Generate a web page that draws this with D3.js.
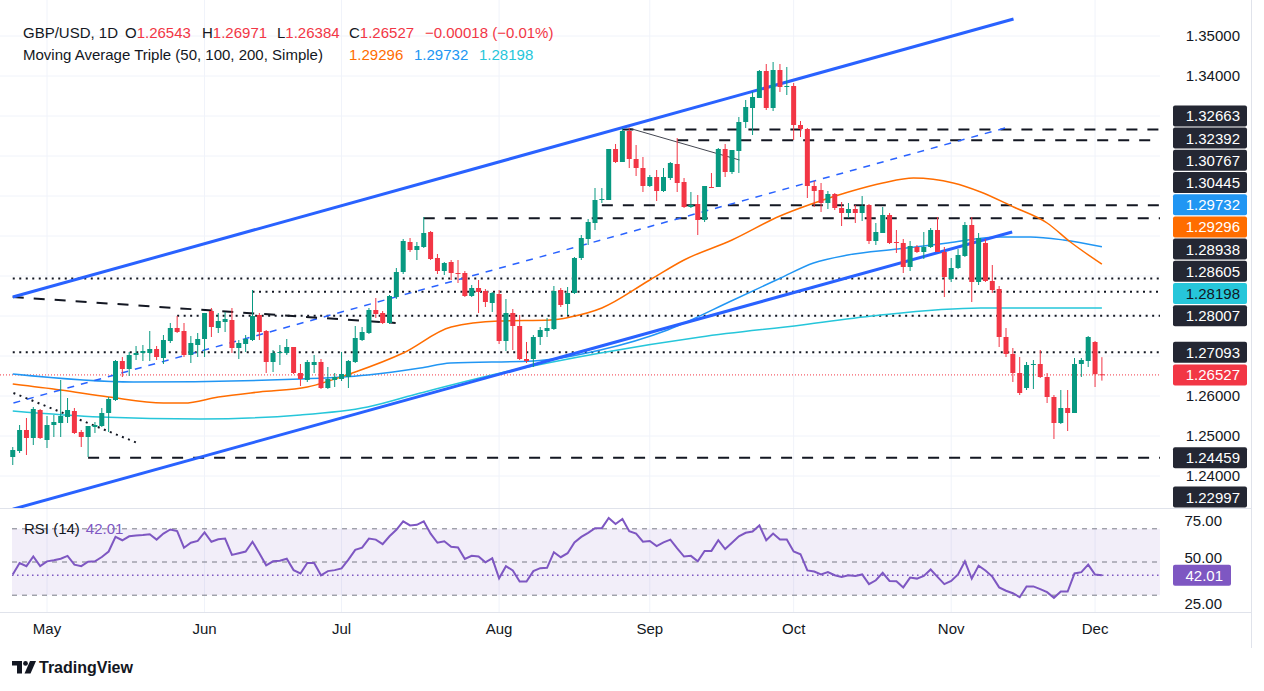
<!DOCTYPE html>
<html>
<head>
<meta charset="utf-8">
<title>GBP/USD 1D</title>
<script src="https://d3js.org/d3.v7.min.js"></script>
<style>
  body { margin: 0; background: #fff; }
  text { font-family: "Liberation Sans", Arial, sans-serif; }
</style>
</head>
<body>
<script>
// daily bars, first one is Apr 24 2024 (bar index -5), last is Dec 3 2024 (index 154)
var firstBar = -5;
var opens = [
  1.24475,1.24625,1.2515,1.2495,1.2565,1.249,1.25275,1.25325,1.25475,1.25625,
  1.251,1.24975,1.25225,1.2525,1.25575,1.259,1.26875,1.26675,1.27025,1.27075,
  1.27075,1.27175,1.2695,1.27375,1.277,1.27625,1.27025,1.27275,1.27425,1.28125,
  1.277,1.2785,1.279,1.272,1.273,1.274,1.28025,1.27625,1.2685,1.27075,
  1.27075,1.27225,1.26575,1.264,1.26775,1.2685,1.262,1.264,1.26425,1.26475,
  1.2685,1.274,1.27575,1.2815,1.28075,1.27825,1.28475,1.291,1.2985,1.2965,
  1.29725,1.301,1.2945,1.29125,1.2935,1.29075,1.29075,1.285,1.287,1.28625,
  1.28325,1.2855,1.27375,1.28075,1.2775,1.26925,1.26925,1.27475,1.27625,1.27675,
  1.2865,1.283,1.28575,1.2945,1.29925,1.30325,1.309,1.309,1.32175,1.3185,
  1.32625,1.31925,1.317,1.3125,1.31475,1.31125,1.3145,1.318,1.3135,1.30725,
  1.308,1.304,1.31225,1.31225,1.32175,1.316,1.32125,1.3285,1.332,1.3345,
  1.34125,1.332,1.3415,1.33725,1.3375,1.32775,1.32675,1.3125,1.3115,1.30825,
  1.3105,1.307,1.30575,1.30675,1.30575,1.30775,1.29875,1.30075,1.30525,1.2985,
  1.29825,1.29225,1.29725,1.296,1.29725,1.3015,1.296,1.28925,1.292,1.295,
  1.30275,1.2885,1.29825,1.28875,1.28675,1.27475,1.2705,1.26575,1.262,1.26775,
  1.268,1.26475,1.25975,1.25325,1.257,1.25575,1.268,1.26875,1.2735,1.26543
];
var highs = [
  1.24725,1.25275,1.2545,1.25725,1.25675,1.255,1.25525,1.264,1.2595,1.257,
  1.2515,1.2525,1.2535,1.257,1.25975,1.269,1.26975,1.271,1.2725,1.27275,
  1.27625,1.2725,1.27525,1.27825,1.28,1.27825,1.275,1.27575,1.28075,1.282,
  1.28075,1.281,1.282,1.274,1.27525,1.2865,1.28075,1.2765,1.2715,1.27275,
  1.27425,1.27225,1.268,1.269,1.27025,1.26925,1.26725,1.26575,1.271,1.269,
  1.2775,1.27725,1.282,1.2845,1.28125,1.28525,1.292,1.29925,1.2995,1.2985,
  1.30475,1.30125,1.2955,1.2935,1.294,1.294,1.29125,1.28775,1.289,1.28675,
  1.286,1.2865,1.28425,1.28175,1.28025,1.2735,1.27525,1.27725,1.2795,1.2875,
  1.287,1.28725,1.29475,1.30025,1.30425,1.312,1.312,1.32175,1.323,1.327,
  1.327,1.32275,1.31975,1.31525,1.3165,1.317,1.3185,1.3245,1.3145,1.311,
  1.31025,1.3125,1.31575,1.322,1.323,1.3215,1.32975,1.334,1.336,1.3415,
  1.343,1.3435,1.343,1.34225,1.33825,1.32875,1.327,1.31375,1.31325,1.31125,
  1.31075,1.3085,1.30825,1.30775,1.31,1.308,1.30325,1.30725,1.30575,1.3015,
  1.29925,1.29875,1.29775,1.301,1.302,1.30475,1.29725,1.2945,1.29675,1.3035,
  1.30475,1.30075,1.29925,1.29275,1.2875,1.277,1.272,1.26975,1.2685,1.269,
  1.2715,1.26575,1.26025,1.2615,1.2615,1.2695,1.2695,1.275,1.27375,1.26971
];
var lows = [
  1.24275,1.24575,1.24525,1.24775,1.24925,1.247,1.24975,1.24975,1.25325,1.2505,
  1.24725,1.24475,1.25075,1.25225,1.251,1.25875,1.26475,1.265,1.269,1.26875,
  1.26875,1.269,1.268,1.27325,1.27575,1.26975,1.26825,1.26975,1.26975,1.27475,
  1.27575,1.276,1.27075,1.26925,1.271,1.27375,1.274,1.26575,1.266,1.26775,
  1.27025,1.2655,1.2625,1.2635,1.26575,1.26175,1.26175,1.26225,1.26375,1.262,
  1.26825,1.27375,1.2755,1.2795,1.278,1.278,1.28425,1.2905,1.296,1.294,
  1.297,1.294,1.2905,1.29025,1.289,1.28825,1.28475,1.28475,1.28075,1.28225,
  1.281,1.273,1.27125,1.2715,1.269,1.26825,1.26725,1.27275,1.27475,1.2765,
  1.28225,1.28025,1.2855,1.294,1.29775,1.3015,1.30825,1.309,1.31825,1.3185,
  1.317,1.315,1.311,1.31225,1.30875,1.311,1.314,1.311,1.307,1.307,
  1.30025,1.3035,1.312,1.31225,1.31475,1.3155,1.31575,1.327,1.32525,1.3345,
  1.3315,1.33125,1.336,1.33525,1.324,1.32475,1.3095,1.30725,1.306,1.30675,
  1.3065,1.3025,1.3045,1.30325,1.30375,1.298,1.29775,1.30075,1.298,1.29575,
  1.29075,1.29125,1.29575,1.29425,1.297,1.296,1.28475,1.2885,1.29175,1.29475,
  1.2835,1.28775,1.2885,1.28575,1.27225,1.26975,1.2635,1.26025,1.2615,1.26175,
  1.2645,1.25825,1.24925,1.253,1.25125,1.25575,1.26475,1.26725,1.26225,1.26384
];
var closes = [
  1.2465,1.2515,1.2495,1.25675,1.2495,1.25275,1.2535,1.255,1.2565,1.25075,
  1.24975,1.2525,1.25275,1.25575,1.25925,1.26875,1.26675,1.27025,1.27075,1.27125,
  1.27175,1.26975,1.274,1.277,1.276,1.27025,1.27325,1.27425,1.28075,1.27725,
  1.27875,1.27925,1.272,1.27325,1.27425,1.28,1.276,1.2685,1.27075,1.271,
  1.27225,1.26575,1.26425,1.2685,1.2685,1.262,1.26425,1.26475,1.2655,1.26875,
  1.2745,1.276,1.2815,1.2805,1.27825,1.285,1.291,1.29875,1.2965,1.2975,
  1.30075,1.29425,1.29125,1.29325,1.29075,1.2905,1.285,1.287,1.286,1.2835,
  1.28575,1.27375,1.28075,1.2775,1.26925,1.26875,1.27475,1.2765,1.277,1.28625,
  1.28275,1.28575,1.2945,1.2995,1.3035,1.309,1.30925,1.32175,1.3185,1.32625,
  1.31925,1.317,1.3125,1.31475,1.31125,1.31475,1.31825,1.31325,1.30725,1.30775,
  1.304,1.3125,1.312,1.32175,1.316,1.3215,1.3285,1.33225,1.33475,1.34125,
  1.332,1.3415,1.33725,1.3375,1.32775,1.32675,1.3125,1.31125,1.30825,1.3105,
  1.307,1.30575,1.30675,1.30575,1.3075,1.29875,1.301,1.30525,1.29825,1.29825,
  1.29225,1.2975,1.296,1.29725,1.3015,1.296,1.28975,1.292,1.29525,1.30275,
  1.2885,1.2995,1.28875,1.2865,1.27475,1.2705,1.26575,1.26075,1.26775,1.268,
  1.26475,1.25975,1.25325,1.257,1.25575,1.268,1.269,1.27475,1.26545,1.26527
];
var rsi = [
  42.5,49.4,47.5,53.3,47.5,50.4,51,52,53.7,48.4,
  47.5,50.2,50.4,53,56.3,65.1,63.1,65.5,66,66.3,
  66.7,63.5,67.1,69.6,68.6,58.6,61.6,62.7,67.8,62.2,
  63.7,64.1,54.3,55.3,56.3,62.2,55.3,48,50.4,50.8,
  52,45.1,43.1,49.4,49.4,42,44.5,45.1,46.1,51.4,
  57.3,58.6,64.1,63.5,60.8,65.5,69.4,74.5,72,72.4,
  74.5,67.1,61.6,62.5,59.2,58.8,51.8,53.7,53.3,49.8,
  52.2,40.2,47.5,44.9,38.2,38.2,44.5,46.3,46.5,55.9,
  52.9,55.3,61.8,65.1,67.6,70.4,70.4,76.5,72.9,75.9,
  68.6,67.1,62.2,62.7,59.6,61.8,63.5,58.2,53.3,53.7,
  50.4,56.7,56.7,63.1,57.8,61.6,65.5,67.6,68.4,72,
  63.1,67.1,63.5,63.5,56.3,54.7,44.9,44.3,42.5,43.9,
  42,41,42,41.6,42.5,36.7,39,43.5,38.6,38.4,
  34.7,40.6,40,41.6,45.5,41,36.7,38.6,42.5,50.4,
  40,47.8,44.9,41.2,34.7,32.7,31.2,28.8,35.3,35.3,
  33.7,31.8,28.4,32.2,32.2,43.1,43.9,48.4,42.5,42.01
];

// moving averages (bar index, value)
var ma50Idx = [-5, 2, 9, 17, 20, 25, 31, 38, 45, 52, 59, 66, 73.5, 76.4, 81, 88, 93, 100, 107, 112, 117, 122, 126.5, 132.3, 136.3, 141.1, 146, 149.4, 154];
var ma50Val = [1.263, 1.2615, 1.25975, 1.25825, 1.25825, 1.25975, 1.261, 1.26225, 1.266, 1.27075, 1.27725, 1.27875, 1.279, 1.27975, 1.282, 1.289, 1.294, 1.299, 1.305, 1.30825, 1.311, 1.31325, 1.3145, 1.31325, 1.311, 1.30725, 1.30325, 1.2985, 1.29296];
var ma100Idx = [-5, 12.6, 37, 46.8, 54.5, 58.9, 71, 80.8, 90.6, 100.2, 107.1, 111.9, 116.9, 124.2, 131.5, 138.8, 143.6, 148.4, 154];
var ma100Val = [1.2655, 1.2635, 1.26425, 1.26525, 1.267, 1.26825, 1.26875, 1.2715, 1.2765, 1.284, 1.2895, 1.29325, 1.29525, 1.29675, 1.29825, 1.29975, 1.29975, 1.299, 1.29732];
var ma200Idx = [-5, 7.8, 22.4, 37, 46.8, 54.5, 66.2, 80.8, 95.4, 110.2, 121.7, 136.3, 154];
var ma200Val = [1.25625, 1.25475, 1.25425, 1.25525, 1.25725, 1.26075, 1.26575, 1.27075, 1.27475, 1.27775, 1.28025, 1.282, 1.28198];

// drawn objects: [bar index, price] end points
var channelUpper = [[-5, 1.28475], [141.1, 1.35425]];
var channelLower = [[-5, 1.2317], [140.9, 1.301]];
var channelMid = [[-4.9, 1.25825], [140.4, 1.32725]];
var fallingDashed = [[-5, 1.28475], [50.9, 1.27825]];
var fallingDotted = [[-4.9, 1.26075], [13.2, 1.24825]];
var pivotLink = [[84.9, 1.327], [101.1, 1.319]];

var dashedLevels = [1.32663, 1.32392, 1.30767, 1.30445, 1.24459];
var dashedFrom = [84, 92, 81, 55, 6];
var dottedLevels = [1.28938, 1.28605, 1.28007, 1.27093];
var dottedFrom = [-5, 30, 19, -5];
var lastPrice = 1.26527;

var tagValues = [1.32663, 1.32392, 1.30767, 1.30445, 1.29732, 1.29296, 1.28938, 1.28605, 1.28198, 1.28007, 1.27093, 1.26527, 1.24459, 1.22997];
var tagKinds = ['level','level','level','level','ma100','ma50','level','level','ma200','level','level','last','level','level'];
var priceTicks = [1.35, 1.34, 1.26, 1.25, 1.24];
var rsiTicks = [75, 50, 25];
var rsiLast = 42.01;

var monthLabels = ['May', 'Jun', 'Jul', 'Aug', 'Sep', 'Oct', 'Nov', 'Dec'];
var monthBars = [0, 23, 43, 66, 88, 109, 132, 153];

var up = '#089981', down = '#f23645', ink = '#131722';
var colors = { level: '#242733', ma100: '#2196f3', ma50: '#ff6d00', ma200: '#26c6da', last: '#f23645' };

var W = 1264, H = 691, plotR = 1160, paneBottom = 508, rsiBottom = 612;

var svg = d3.select('body').append('svg').attr('width', W).attr('height', H);

var x = d3.scaleLinear().domain([-5, 154]).range([12.75, 1101.9]);
var y = d3.scaleLinear().domain([1.24, 1.35]).range([476, 36]);
var yR = d3.scaleLinear().domain([25, 75]).range([603.5, 520.5]);

var bars = opens.map(function(o, k) {
  return { i: firstBar + k, o: o, h: highs[k], l: lows[k], c: closes[k], r: rsi[k] };
});

// grid
var grid = svg.append('g');
grid.selectAll('line.h').data(d3.range(1.23, 1.355, 0.01).filter(function(p){ return y(p) < paneBottom; }))
  .enter().append('line')
  .attr('x1', 0).attr('x2', plotR).attr('y1', function(d){ return y(d); }).attr('y2', function(d){ return y(d); })
  .attr('stroke', '#f0f3fa');
grid.selectAll('line.v').data(monthBars).enter().append('line')
  .attr('x1', function(d){ return x(d); }).attr('x2', function(d){ return x(d); })
  .attr('y1', 0).attr('y2', rsiBottom).attr('stroke', '#f0f3fa');

// frame lines
svg.append('line').attr('x1', 0).attr('x2', 1251).attr('y1', paneBottom + 0.5).attr('y2', paneBottom + 0.5).attr('stroke', '#e0e3eb');
svg.append('line').attr('x1', 0).attr('x2', 1251).attr('y1', rsiBottom + 0.5).attr('y2', rsiBottom + 0.5).attr('stroke', '#e0e3eb');
svg.append('line').attr('x1', 1251.5).attr('x2', 1251.5).attr('y1', 0).attr('y2', 648).attr('stroke', '#e0e3eb');

svg.append('clipPath').attr('id', 'pane').append('rect').attr('x', 0).attr('y', 0).attr('width', plotR).attr('height', paneBottom);
var pane = svg.append('g').attr('clip-path', 'url(#pane)');

// horizontal levels
pane.selectAll('line.dash').data(dashedLevels).enter().append('line')
  .attr('x1', function(d, k){ return x(dashedFrom[k]); }).attr('x2', plotR)
  .attr('y1', function(d){ return y(d); }).attr('y2', function(d){ return y(d); })
  .attr('stroke', ink).attr('stroke-width', 2).attr('stroke-dasharray', '11,10');
pane.selectAll('line.dot').data(dottedLevels).enter().append('line')
  .attr('x1', function(d, k){ return x(dottedFrom[k]); }).attr('x2', plotR)
  .attr('y1', function(d){ return y(d); }).attr('y2', function(d){ return y(d); })
  .attr('stroke', ink).attr('stroke-width', 2).attr('stroke-dasharray', '2,4.5');
pane.append('line').attr('x1', 0).attr('x2', plotR).attr('y1', y(lastPrice)).attr('y2', y(lastPrice))
  .attr('stroke', down).attr('stroke-dasharray', '1,2');

// moving averages
function maLine(idx, val, color) {
  var pts = idx.map(function(d, k){ return [x(d), y(val[k])]; });
  pane.append('path').attr('d', d3.line().curve(d3.curveMonotoneX)(pts))
    .attr('fill', 'none').attr('stroke', color).attr('stroke-width', 1.5);
}
maLine(ma200Idx, ma200Val, colors.ma200);
maLine(ma100Idx, ma100Val, colors.ma100);
maLine(ma50Idx, ma50Val, colors.ma50);

// drawings
function seg(pts, color, w, dash) {
  var l = pane.append('line')
    .attr('x1', x(pts[0][0])).attr('y1', y(pts[0][1]))
    .attr('x2', x(pts[1][0])).attr('y2', y(pts[1][1]))
    .attr('stroke', color).attr('stroke-width', w);
  if (dash) l.attr('stroke-dasharray', dash);
}
seg(channelMid, '#2962ff', 1.5, '7,7');
seg(fallingDashed, ink, 2, '11,10');
seg(fallingDotted, ink, 2, '2,4.5');
seg(pivotLink, '#434651', 1);
seg(channelUpper, '#2962ff', 3);
seg(channelLower, '#2962ff', 3);

// candles
var cg = pane.selectAll('g.bar').data(bars).enter().append('g');
cg.append('line')
  .attr('x1', function(d){ return x(d.i); }).attr('x2', function(d){ return x(d.i); })
  .attr('y1', function(d){ return y(d.h); }).attr('y2', function(d){ return y(d.l); })
  .attr('stroke', function(d){ return d.c >= d.o ? up : down; });
cg.append('rect')
  .attr('x', function(d){ return x(d.i) - 2.5; }).attr('width', 5)
  .attr('y', function(d){ return y(Math.max(d.o, d.c)); })
  .attr('height', function(d){ return Math.max(1, Math.abs(y(d.o) - y(d.c))); })
  .attr('fill', function(d){ return d.c >= d.o ? up : down; });

// RSI pane
var rp = svg.append('g');
rp.append('rect').attr('x', 12).attr('width', plotR - 12).attr('y', yR(70)).attr('height', yR(30) - yR(70))
  .attr('fill', 'rgba(126,87,194,0.1)');
rp.selectAll('line.lv').data([70, 50, 30]).enter().append('line')
  .attr('x1', 12).attr('x2', plotR).attr('y1', function(d){ return yR(d); }).attr('y2', function(d){ return yR(d); })
  .attr('stroke', '#787b86').attr('stroke-dasharray', '5,5');
rp.append('line').attr('x1', 12).attr('x2', plotR).attr('y1', yR(rsiLast)).attr('y2', yR(rsiLast))
  .attr('stroke', '#7e57c2').attr('stroke-width', 1.5).attr('stroke-dasharray', '1.5,3.5');
rp.append('path').attr('d', d3.line().x(function(d){ return x(d.i); }).y(function(d){ return yR(d.r); })(bars))
  .attr('fill', 'none').attr('stroke', '#7e57c2').attr('stroke-width', 2);
var rl = rp.append('text').attr('x', 24).attr('y', yR(70) + 5).attr('font-size', 15);
rl.append('tspan').attr('fill', ink).text('RSI (14)');
rl.append('tspan').attr('fill', '#7e57c2').attr('dx', 6).text(rsiLast.toFixed(2));

// price axis
var ax = svg.append('g').attr('font-size', 15);
ax.selectAll('text.t').data(priceTicks).enter().append('text')
  .attr('x', 1240).attr('y', function(d){ return y(d) + 5; }).attr('text-anchor', 'end')
  .attr('fill', ink).text(function(d){ return d.toFixed(5); });

// stacked value tags, pushed up from the bottom so they do not overlap
var tags = tagValues.map(function(v, k){ return { v: v, kind: tagKinds[k], ty: y(v) }; });
var order = tags.slice().sort(function(a, b){ return b.ty - a.ty; });
var prev = Infinity;
order.forEach(function(t){
  t.py = Math.min(t.ty, prev - 22.2, paneBottom - 11);
  prev = t.py;
});
var tg = ax.selectAll('g.tag').data(tags).enter().append('g');
tg.append('rect').attr('x', 1173).attr('width', 74).attr('y', function(d){ return d.py - 10.5; }).attr('height', 21)
  .attr('rx', 2).attr('fill', function(d){ return colors[d.kind]; });
tg.append('text').attr('x', 1240).attr('y', function(d){ return d.py + 5.5; }).attr('text-anchor', 'end')
  .attr('fill', function(d){ return d.kind === 'ma200' ? ink : '#fff'; })
  .text(function(d){ return d.v.toFixed(5); });

// RSI axis; the 50 label is nudged up so it clears the last-value tag
var rTagTop = yR(rsiLast) - 10.5;
ax.selectAll('text.r').data(rsiTicks).enter().append('text')
  .attr('x', 1222).attr('text-anchor', 'end')
  .attr('y', function(d){ return Math.min(yR(d) + 5, rTagTop - 1.5); })
  .attr('fill', ink).text(function(d){ return d.toFixed(2); })
  .filter(function(d){ return d === 25; }).attr('y', yR(25) + 5);
ax.append('rect').attr('x', 1173).attr('width', 58).attr('y', rTagTop).attr('height', 21).attr('rx', 2).attr('fill', '#7e57c2');
ax.append('text').attr('x', 1223).attr('y', yR(rsiLast) + 5.5).attr('text-anchor', 'end').attr('fill', '#fff').text(rsiLast.toFixed(2));

// time axis
ax.selectAll('text.m').data(monthLabels).enter().append('text')
  .attr('x', function(d, k){ return x(monthBars[k]); }).attr('y', 634).attr('text-anchor', 'middle')
  .attr('fill', ink).text(function(d){ return d; });

// legend
var hd = svg.append('g').attr('font-size', 15);
var l1 = hd.append('text').attr('y', 38);
l1.append('tspan').attr('x', 23).attr('fill', ink).text('GBP/USD, 1D');
[['O', opens], ['H', highs], ['L', lows], ['C', closes]].forEach(function(p, k) {
  var xs = [125, 202, 277, 349][k];
  l1.append('tspan').attr('x', xs).attr('fill', ink).text(p[0]);
  l1.append('tspan').attr('fill', down).text(p[1][p[1].length - 1].toFixed(5));
});
var chg = closes[closes.length - 1] - closes[closes.length - 2];
l1.append('tspan').attr('x', 425).attr('fill', down)
  .text('\u2212' + Math.abs(chg).toFixed(5) + ' (\u2212' + Math.abs(chg / closes[closes.length - 2] * 100).toFixed(2) + '%)');
var l2 = hd.append('text').attr('y', 60);
l2.append('tspan').attr('x', 23).attr('fill', ink).text('Moving Average Triple (50, 100, 200, Simple)');
l2.append('tspan').attr('x', 349).attr('fill', colors.ma50).text(ma50Val[ma50Val.length - 1].toFixed(5));
l2.append('tspan').attr('x', 414).attr('fill', colors.ma100).text(ma100Val[ma100Val.length - 1].toFixed(5));
l2.append('tspan').attr('x', 479).attr('fill', colors.ma200).text(ma200Val[ma200Val.length - 1].toFixed(5));

// logo
var lg = svg.append('g').attr('fill', ink);
lg.append('path').attr('d', 'M12 661 h10 v12.5 h-5 v-8 h-5 z');
lg.append('circle').attr('cx', 25.5).attr('cy', 663.4).attr('r', 2.4);
lg.append('path').attr('d', 'M30 661 h6 l-5.5 12.5 h-6 z');
lg.append('text').attr('x', 39).attr('y', 673).attr('font-size', 16).attr('font-weight', 700).text('TradingView');
</script>
</body>
</html>
